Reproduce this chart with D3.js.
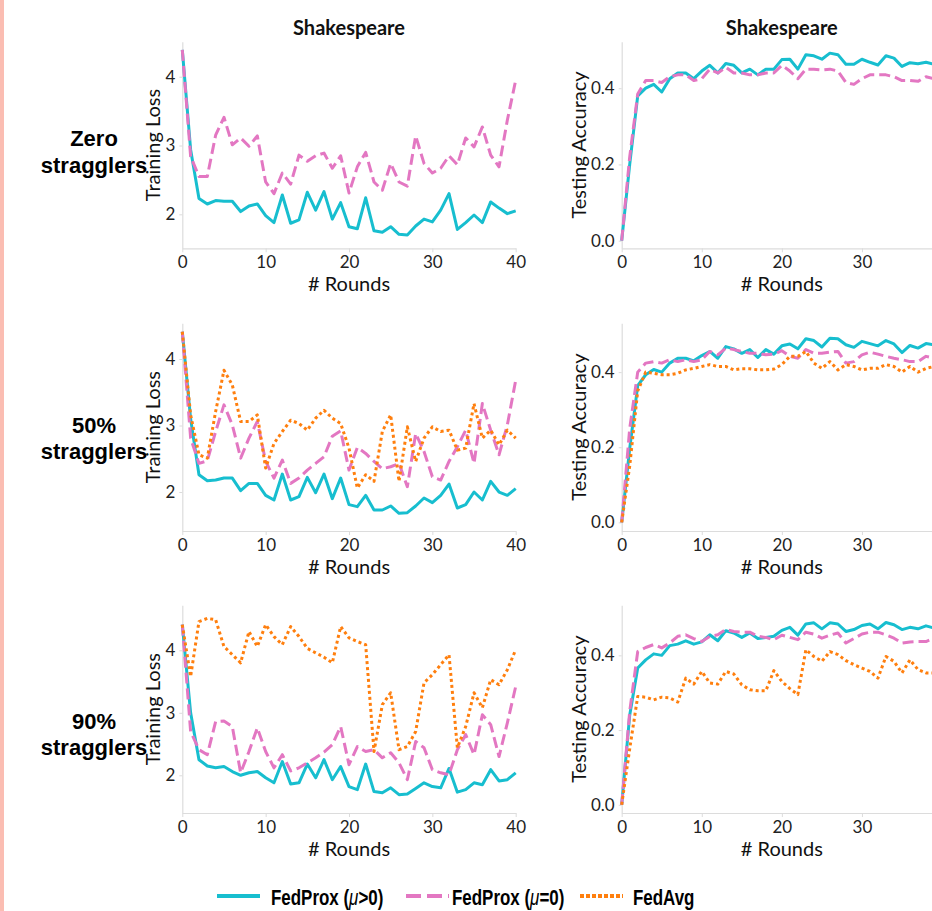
<!DOCTYPE html>
<html><head><meta charset="utf-8">
<script src="https://cdn.jsdelivr.net/npm/d3@7"></script>
<style>
body{margin:0;background:#fff;}
svg{display:block;}
</style></head>
<body><svg id="c" width="932" height="911"></svg>
<script>
// ---- data ----
const rowLabels = [["Zero","stragglers"],["50%","stragglers"],["90%","stragglers"]];
const panelTitle = "Shakespeare";
const seriesNames = ["FedProx (\u03bc>0)","FedProx (\u03bc=0)","FedAvg"];
const lossTicks = [2,3,4];
const accTicks = [0,0.2,0.4];
const roundTicksLeft = [0,10,20,30,40];
const roundTicksRight = [0,10,20,30];

const lossProxZero = [4.39,2.94,2.23,2.15,2.20,2.19,2.19,2.04,2.12,2.15,1.98,1.88,2.28,1.87,1.92,2.32,2.06,2.33,1.93,2.17,1.82,1.79,2.24,1.76,1.74,1.82,1.71,1.70,1.83,1.93,1.89,2.06,2.30,1.78,1.88,1.99,1.88,2.18,2.09,2.01,2.05];
const lossProx0Zero = [4.39,2.84,2.55,2.55,3.15,3.41,3.01,3.11,2.99,3.14,2.47,2.30,2.60,2.44,2.86,2.77,2.85,2.89,2.67,2.85,2.31,2.69,2.90,2.47,2.35,2.74,2.47,2.41,3.14,2.74,2.60,2.67,2.85,2.72,3.11,2.98,3.27,2.86,2.69,3.37,3.95];
const accProxZero = [0,0.20,0.38,0.40,0.41,0.39,0.425,0.44,0.44,0.425,0.445,0.46,0.44,0.465,0.46,0.44,0.45,0.435,0.45,0.45,0.475,0.476,0.45,0.488,0.485,0.476,0.492,0.488,0.463,0.463,0.476,0.468,0.461,0.485,0.479,0.457,0.467,0.464,0.468,0.463,0.465];
const accProx0Zero = [0,0.22,0.385,0.42,0.42,0.415,0.43,0.435,0.435,0.42,0.425,0.45,0.44,0.455,0.44,0.44,0.435,0.435,0.44,0.44,0.46,0.445,0.425,0.45,0.45,0.448,0.45,0.445,0.415,0.41,0.425,0.435,0.435,0.435,0.43,0.42,0.42,0.418,0.43,0.425,0.425];

const lossProx50 = [4.41,3.1,2.26,2.17,2.18,2.21,2.21,2.02,2.13,2.13,1.95,1.88,2.27,1.88,1.93,2.22,1.99,2.27,1.90,2.21,1.81,1.78,1.95,1.73,1.73,1.79,1.68,1.69,1.79,1.91,1.84,1.95,2.12,1.76,1.81,2.00,1.88,2.16,2.00,1.95,2.05];
const lossProx050 = [4.41,2.81,2.43,2.47,2.91,3.31,3.01,2.51,2.81,3.06,2.46,2.21,2.48,2.13,2.21,2.33,2.43,2.53,2.84,2.92,2.33,2.67,2.58,2.46,2.35,2.38,2.43,2.08,2.88,2.61,2.23,2.18,2.46,2.68,2.93,2.43,3.33,2.93,2.56,3.01,3.68];
const lossAvg50 = [4.41,3.16,2.56,2.51,3.21,3.83,3.61,3.06,3.06,3.16,2.36,2.73,2.91,3.08,3.03,2.93,3.11,3.23,3.11,3.03,2.66,2.06,2.26,2.16,2.91,3.16,2.16,2.98,2.46,2.81,2.98,2.91,2.93,2.63,2.66,3.33,2.81,2.93,2.71,2.93,2.81];
const accProx50 = [0,0.197,0.364,0.393,0.407,0.40,0.424,0.437,0.437,0.43,0.444,0.455,0.437,0.468,0.462,0.45,0.46,0.439,0.46,0.448,0.47,0.475,0.462,0.489,0.484,0.467,0.49,0.489,0.473,0.466,0.482,0.476,0.47,0.484,0.475,0.452,0.471,0.464,0.476,0.473,0.475];
const accProx050 = [0,0.25,0.40,0.424,0.428,0.424,0.433,0.428,0.433,0.428,0.433,0.455,0.446,0.464,0.46,0.455,0.45,0.45,0.446,0.448,0.457,0.442,0.437,0.46,0.45,0.45,0.453,0.455,0.424,0.428,0.446,0.453,0.448,0.442,0.437,0.433,0.428,0.428,0.442,0.437,0.437];
const accAvg50 = [0,0.15,0.35,0.40,0.397,0.393,0.393,0.397,0.406,0.41,0.415,0.42,0.415,0.415,0.406,0.409,0.409,0.406,0.406,0.408,0.42,0.442,0.442,0.455,0.424,0.41,0.428,0.406,0.42,0.415,0.406,0.41,0.41,0.42,0.415,0.40,0.415,0.40,0.41,0.415,0.415];

const lossProx90 = [4.41,3.0,2.25,2.15,2.12,2.14,2.06,2.0,2.04,2.06,1.96,1.88,2.22,1.86,1.88,2.18,1.96,2.25,1.93,2.14,1.82,1.77,2.18,1.74,1.72,1.80,1.69,1.70,1.79,1.88,1.82,1.80,2.11,1.73,1.77,1.88,1.85,2.09,1.91,1.93,2.04];
const lossProx090 = [4.41,2.70,2.41,2.33,2.86,2.87,2.78,2.04,2.38,2.76,2.38,2.12,2.33,2.07,2.12,2.20,2.28,2.37,2.49,2.78,2.17,2.46,2.38,2.41,2.28,2.36,2.20,1.93,2.54,2.44,2.09,2.04,2.01,2.41,2.65,2.33,2.97,2.81,2.30,2.84,3.42];
const lossAvg90 = [4.41,3.58,4.46,4.51,4.49,4.06,3.93,3.80,4.30,4.06,4.41,4.22,4.09,4.38,4.22,4.03,3.96,3.89,3.80,4.38,4.20,4.14,4.09,2.38,3.13,3.32,2.41,2.46,2.70,3.48,3.61,3.77,3.93,2.44,2.78,3.32,3.08,3.53,3.45,3.69,4.01];
const accProx90 = [0,0.24,0.366,0.388,0.404,0.40,0.426,0.43,0.439,0.43,0.436,0.455,0.439,0.466,0.46,0.448,0.46,0.445,0.448,0.451,0.467,0.475,0.454,0.484,0.487,0.471,0.487,0.484,0.464,0.469,0.48,0.484,0.471,0.488,0.482,0.469,0.475,0.471,0.479,0.473,0.475];
const accProx090 = [0,0.25,0.41,0.421,0.429,0.42,0.433,0.451,0.455,0.445,0.437,0.451,0.455,0.469,0.464,0.462,0.462,0.451,0.448,0.442,0.454,0.448,0.442,0.462,0.457,0.446,0.454,0.46,0.433,0.445,0.457,0.462,0.462,0.455,0.446,0.433,0.436,0.437,0.437,0.446,0.443];
const accAvg90 = [0,0.15,0.29,0.288,0.281,0.288,0.286,0.275,0.339,0.323,0.357,0.326,0.323,0.357,0.35,0.321,0.308,0.305,0.305,0.359,0.33,0.311,0.295,0.415,0.397,0.384,0.41,0.402,0.386,0.375,0.366,0.357,0.339,0.397,0.384,0.353,0.388,0.362,0.353,0.353,0.36];

// ---- layout / style ----
const colors = ["#17becf","#e377c2","#ff7f0e"];
const dashes = [null,"11,5","3,3"];
const legendDashes = [null,"15,6","4,2"];
const rowsTop = [41.7,323.3,605.3], rowsBot = [248.3,531,813];
const leftX = [182.3,515.7], rightX = [621.7,942];
const lossDomains = [[1.506,4.509],[1.414,4.537],[1.397,4.72]];
const accDomains = [[-0.02,0.522],[-0.023,0.53],[-0.022,0.534]];
const rowLabelBase = [[145.7,173.3],[433.3,459.3],[729,755]];

const lossData = [[lossProxZero,lossProx0Zero,null],[lossProx50,lossProx050,lossAvg50],[lossProx90,lossProx090,lossAvg90]];
const accData = [[accProxZero,accProx0Zero,null],[accProx50,accProx050,accAvg50],[accProx90,accProx090,accAvg90]];

const svg = d3.select("#c");
svg.append("rect").attr("width",932).attr("height",911).attr("fill","#fff");
svg.append("rect").attr("x",0).attr("y",0).attr("width",4).attr("height",911).attr("fill","#fbbdb2");

const calib = 'Lato,"Open Sans",sans-serif';
const arial = '"Liberation Sans",Arial,sans-serif';

function panel(row, xr, domain, ticksY, fmt, ticksX, series, ylabel, ylabelX){
  const x = d3.scaleLinear().domain([0,40]).range(xr);
  const y = d3.scaleLinear().domain(domain).range([rowsBot[row], rowsTop[row]]);
  const g = svg.append("g");
  const ax = g.append("g").attr("transform",`translate(0,${rowsBot[row]})`)
    .call(d3.axisBottom(x).tickValues(ticksX).tickSize(4).tickPadding(4).tickSizeOuter(0));
  const ay = g.append("g").attr("transform",`translate(${xr[0]},0)`)
    .call(d3.axisLeft(y).tickValues(ticksY).tickFormat(fmt).tickSize(3).tickPadding(4).tickSizeOuter(0));
  [ax,ay].forEach(a=>{a.select(".domain").attr("stroke","#dcdcdc").attr("stroke-width",1.2);
    a.selectAll(".tick line").attr("stroke","#dcdcdc");
    a.selectAll(".tick text").attr("fill","#222").style("font-family",calib).style("font-size","17px");});
  const line = d3.line().x((d,i)=>x(i)).y(d=>y(d));
  series.forEach((s,k)=>{
    if(!s) return;
    g.append("path").datum(s).attr("d",line).attr("fill","none")
      .attr("stroke",colors[k]).attr("stroke-width",3)
      .attr("stroke-linejoin","round")
      .attr("stroke-dasharray",dashes[k]);
  });
  g.append("text").attr("x",(xr[0]+xr[1])/2).attr("y",rowsBot[row]+42.5)
    .attr("text-anchor","middle").style("font-family",calib).style("font-size","20px").attr("fill","#111").text("# Rounds");
  const cy = (rowsTop[row]+rowsBot[row])/2;
  g.append("text").attr("transform",`translate(${ylabelX},${cy}) rotate(-90)`)
    .attr("text-anchor","middle").style("font-family",calib).style("font-size","20px").attr("fill","#111").text(ylabel);
  if(row===0){
    g.append("text").attr("x",(xr[0]+xr[1])/2).attr("y",35).attr("text-anchor","middle")
      .style("font-family",calib).style("font-size","20px").style("font-weight","bold").attr("fill","#111").text(panelTitle);
  }
}

for(let r=0;r<3;r++){
  panel(r,leftX,lossDomains[r],lossTicks,d3.format("d"),roundTicksLeft,lossData[r],"Training Loss",160);
  panel(r,rightX,accDomains[r],accTicks,d3.format(".1f"),roundTicksRight,accData[r],"Testing Accuracy",586);
  rowLabels[r].forEach((t,j)=>{
    svg.append("text").attr("x",94).attr("y",rowLabelBase[r][j]).attr("text-anchor","middle")
      .style("font-family",arial).style("font-size","22px").style("font-weight","bold").attr("fill","#000").text(t);
  });
}

// legend
const legItems = [
  {x0:217,x1:260,tx:271},
  {x0:406,x1:449,tx:452},
  {x0:580,x1:623,tx:633}
];
legItems.forEach((it,k)=>{
  svg.append("line").attr("x1",it.x0).attr("x2",it.x1).attr("y1",896).attr("y2",896)
    .attr("stroke",colors[k]).attr("stroke-width",4).attr("stroke-dasharray",legendDashes[k]);
  const gt = svg.append("g").attr("transform",`translate(${it.tx},905) scale(0.77,1)`);
  const t = gt.append("text").style("font-family",arial).style("font-size","22px").style("font-weight","bold").attr("fill","#000");
  const name = seriesNames[k];
  const mi = name.indexOf("\u03bc");
  if(mi>=0){
    t.append("tspan").text(name.slice(0,mi));
    t.append("tspan").style("font-style","italic").style("font-weight","normal").text("\u03bc");
    t.append("tspan").text(name.slice(mi+1));
  } else t.text(name);
});
</script></body></html>
